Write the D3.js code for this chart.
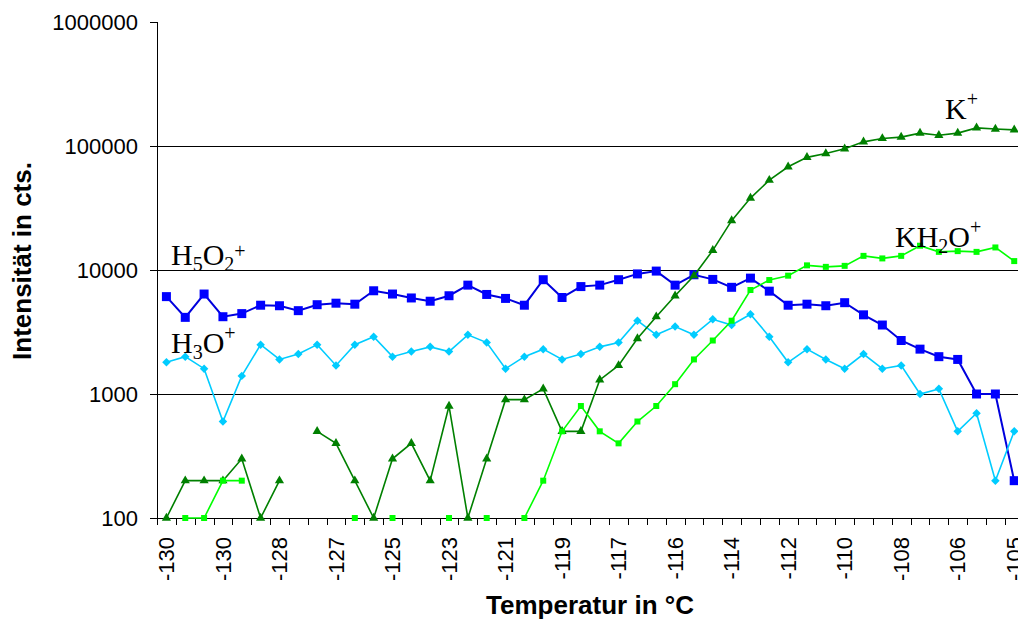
<!DOCTYPE html>
<html>
<head>
<meta charset="utf-8">
<script src="https://cdn.jsdelivr.net/npm/d3@7"></script>
<style>
  body { margin: 0; background: #fff; }
  svg { display: block; overflow: hidden; }
  .tick text { font-family: "Liberation Sans", Arial, sans-serif; font-size: 22px; fill: #000; }
  .tick line, .domain, .grid line { shape-rendering: crispEdges; }
  .axis-title { font-family: "Liberation Sans", Arial, sans-serif; font-size: 26px; font-weight: bold; }
  .series-label { font-family: "Liberation Serif", "Times New Roman", serif; font-size: 30px; }
</style>
</head>
<body>
<div class="root"></div>
<script>
// temperature per measurement (only every third is labelled)
var temps = [-130, -130, -130, -130, -129, -129, -128, -128, -127, -127, -126, -126, -125, -124, -124,
  -123, -122, -122, -121, -120, -120, -119, -118, -118, -117, -117, -116, -116, -115, -115,
  -114, -113, -113, -112, -111, -111, -110, -109, -109, -108, -107, -107, -106, -106, -105, -105];

var h5o2 = [6100, 4150, 6400, 4200, 4450, 5200, 5150, 4700, 5250, 5400, 5300, 6800, 6400, 5950, 5600,
  6200, 7550, 6350, 5900, 5200, 8350, 6000, 7350, 7550, 8350, 9300, 9800, 7550, 9150, 8400,
  7250, 8600, 6750, 5200, 5300, 5150, 5450, 4350, 3600, 2700, 2300, 2000, 1900, 1000, 1000, 200];

var h3o = [1800, 2000, 1600, 600, 1400, 2500, 1900, 2100, 2500, 1700, 2500, 2900, 2000, 2200, 2400,
  2200, 3000, 2600, 1600, 2000, 2300, 1900, 2100, 2400, 2600, 3900, 3000, 3500, 3000, 4000,
  3600, 4400, 2900, 1800, 2300, 1900, 1600, 2100, 1600, 1700, 1000, 1100, 500, 700, 200, 500];

var kPlus = [100, 200, 200, 200, 300, 100, 200, null, 500, 400, 200, 100, 300, 400, 200,
  800, 100, 300, 900, 900, 1100, 500, 500, 1300, 1700, 2800, 4200, 6200, 9000, 14400,
  25000, 38000, 53000, 68000, 81000, 87000, 95000, 108000, 115000, 118000, 127000, 122000, 127000, 140000, 137000, 135000];

var kh2o = [null, 100, 100, 200, 200, null, null, null, null, null, 100, null, 100, null, null,
  100, null, 100, null, 100, 200, 500, 800, 500, 400, 600, 800, 1200, 1900, 2700,
  3900, 6900, 8300, 9000, 10900, 10600, 10800, 13000, 12400, 13000, 15700, 14000, 14200, 14000, 15200, 11800];

var yTicks = [100, 1000, 10000, 100000, 1000000];

function drawChart() {
  var W = 1018, H = 620;
  var left = 157, top = 22, bottom = 518;
  var step = 18.84;
  var right = left + step * temps.length;

  var svg = d3.select('.root').append('svg')
    .attr('width', W)
    .attr('height', H);

  var idx = d3.range(temps.length);

  var x = d3.scaleBand()
    .domain(idx)
    .range([left, right])
    .padding(0);

  var xEdge = d3.scaleLinear()
    .domain([0, temps.length])
    .range([left, right]);

  var y = d3.scaleLog()
    .domain([100, 1000000])
    .range([bottom, top]);

  function cx(i) { return x(i) + x.bandwidth() / 2; }

  // grid lines
  svg.append('g')
    .attr('class', 'grid')
    .selectAll('line')
    .data([1000, 10000, 100000])
    .enter().append('line')
      .attr('x1', left)
      .attr('x2', right)
      .attr('y1', function(d) { return y(d); })
      .attr('y2', function(d) { return y(d); })
      .attr('stroke', '#000')
      .attr('stroke-width', 1);

  // y axis
  var yAxis = svg.append('g')
    .attr('transform', 'translate(' + left + ',0)')
    .call(d3.axisLeft(y).tickValues(yTicks).tickFormat(d3.format('d')).tickSize(7).tickPadding(12));
  yAxis.select('.domain').attr('stroke', '#000');

  // x axis: ticks between categories
  var xTicks = svg.append('g')
    .attr('transform', 'translate(0,' + bottom + ')')
    .call(d3.axisBottom(xEdge).tickValues(d3.range(temps.length + 1)).tickFormat('').tickSizeOuter(0).tickSize(7));
  xTicks.select('.domain').attr('stroke', '#000');

  // x labels, every third category
  svg.append('g')
    .selectAll('text')
    .data(idx.filter(function(i) { return i % 3 == 0; }))
    .enter().append('text')
      .attr('transform', function(i) { return 'translate(' + cx(i) + ',' + 537 + ') rotate(-90)'; })
      .attr('dy', '0.35em')
      .attr('text-anchor', 'end')
      .style('font-family', '"Liberation Sans", Arial, sans-serif')
      .style('font-size', '22px')
      .text(function(i) { return temps[i]; });

  var series = [
    {values: h5o2, line: '#0000dd', fill: '#0000ff', width: 2, shape: 'square', size: 9},
    {values: h3o, line: '#00ccff', fill: '#00ccff', width: 1.6, shape: 'diamond', size: 6},
    {values: kPlus, line: '#008000', fill: '#008000', width: 1.6, shape: 'triangle', size: 9},
    {values: kh2o, line: '#00ff00', fill: '#00ff00', width: 1.6, shape: 'square', size: 6}
  ];

  var line = d3.line()
    .defined(function(d) { return d != null; })
    .x(function(d, i) { return cx(i); })
    .y(function(d) { return y(d); });

  series.forEach(function(s) {
    var g = svg.append('g');
    g.append('path')
      .datum(s.values)
      .attr('d', line)
      .attr('fill', 'none')
      .attr('stroke', s.line)
      .attr('stroke-width', s.width);

    var pts = s.values.map(function(v, i) { return {v: v, i: i}; })
      .filter(function(d) { return d.v != null; });

    var sym;
    if (s.shape == 'triangle') {
      sym = d3.symbol().type(d3.symbolTriangle).size(s.size * s.size * 0.45);
    } else {
      sym = d3.symbol().type(d3.symbolSquare).size(s.size * s.size);
    }

    g.selectAll('path.mark')
      .data(pts)
      .enter().append('path')
        .attr('class', 'mark')
        .attr('d', sym)
        .attr('fill', s.fill)
        .attr('transform', function(d) {
          return 'translate(' + cx(d.i) + ',' + y(d.v) + ')' + (s.shape == 'diamond' ? ' rotate(45)' : '');
        });
  });

  // series labels
  function label(xp, yp, parts) {
    var t = svg.append('text')
      .attr('class', 'series-label')
      .attr('x', xp)
      .attr('y', yp);
    parts.forEach(function(p) {
      var sp = t.append('tspan').text(p[0]);
      if (p[1] == 'sub') sp.attr('font-size', '20px').attr('dy', 6);
      else if (p[1] == 'sup') sp.attr('font-size', '20px').attr('dy', -13);
      else if (p[1] == 'back') sp.attr('dy', -6);
    });
  }
  label(945, 119, [['K'], ['+', 'sup']]);
  label(895, 247, [['KH'], ['2', 'sub'], ['O', 'back'], ['+', 'sup']]);
  label(171, 265, [['H'], ['5', 'sub'], ['O', 'back'], ['2', 'sub'], ['+', 'sup']]);
  label(171, 353, [['H'], ['3', 'sub'], ['O', 'back'], ['+', 'sup']]);

  // axis titles
  svg.append('text')
    .attr('class', 'axis-title')
    .attr('x', 590)
    .attr('y', 614)
    .attr('text-anchor', 'middle')
    .text('Temperatur in °C');

  svg.append('text')
    .attr('class', 'axis-title')
    .attr('transform', 'translate(31,261) rotate(-90)')
    .attr('text-anchor', 'middle')
    .text('Intensität in cts.');
}

window.onload = function() {
  drawChart();
};
</script>
</body>
</html>
